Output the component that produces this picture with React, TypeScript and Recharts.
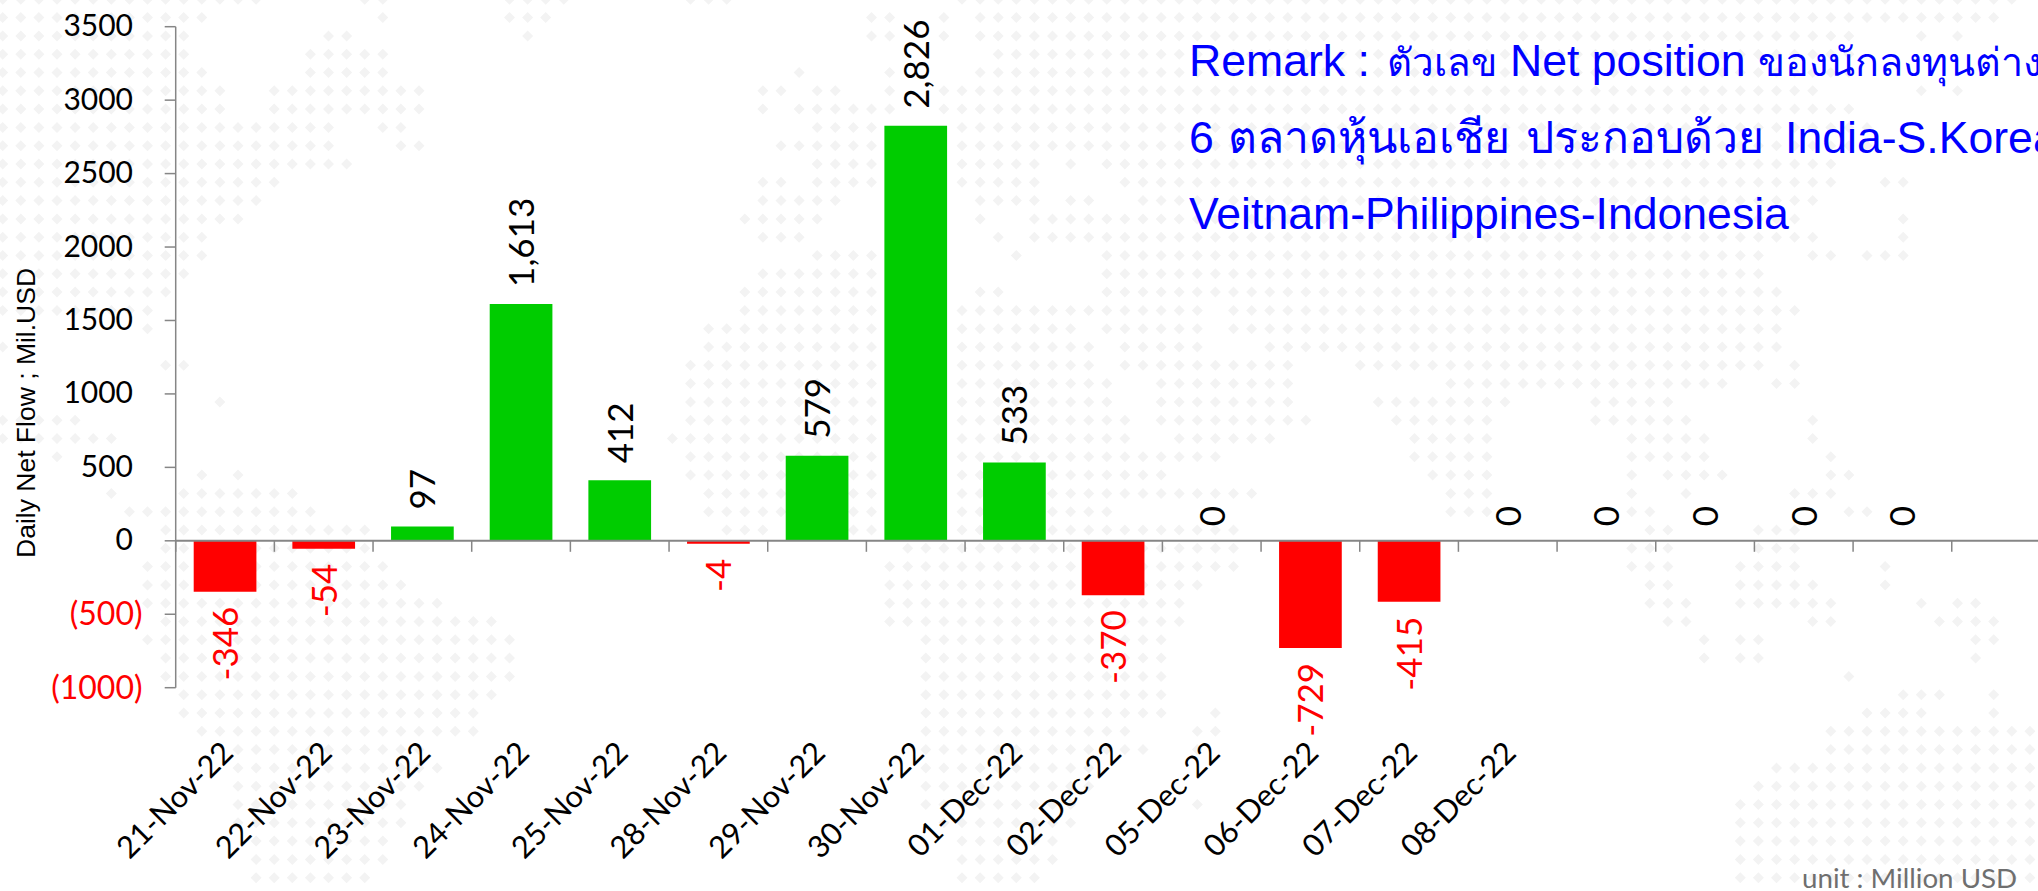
import { Bar, BarChart, Cell, LabelList, ReferenceLine, XAxis, YAxis } from 'recharts';

const categories = [
  '21-Nov-22', '22-Nov-22', '23-Nov-22', '24-Nov-22', '25-Nov-22', '28-Nov-22', '29-Nov-22',
  '30-Nov-22', '01-Dec-22', '02-Dec-22', '05-Dec-22', '06-Dec-22', '07-Dec-22', '08-Dec-22',
  '', '', '', '', '',
];
const netFlow = [-346, -54, 97, 1613, 412, -4, 579, 2826, 533, -370, 0, -729, -415, 0, 0, 0, 0, 0, null];
const yTicks = [-1000, -500, 0, 500, 1000, 1500, 2000, 2500, 3000, 3500];
const remarkLine1 = ['Remark :', 'ตัวเลข', 'Net position', 'ของนักลงทุนต่าง'];
const remarkLine2 = ['6', 'ตลาดหุ้นเอเชีย', 'ประกอบด้วย', 'India-S.Korea'];
const remarkLine3 = ['Veitnam-Philippines-Indonesia'];

// world-map dots behind the chart: one string per dot row, "from-to" column runs
const mapRows = [
  '0-14 20-21 28-31 38-40 53-111',
  '0-11 21 28-30 48-49 52 54-110',
  '0-10 18-19 29 48-49 52 54-102 106 108',
  '0-10 17-21 55-102',
  '0-11 17-21 44 49 54-102',
  '0-12 15-23 42-43 45-46 49 52-100 106 108',
  '0-12 15-23 42 44-49 52-102',
  '0-18 21-22 45-48 53-103',
  '0-18 22-23 43-48 53-103',
  '0-19 45-48 53-57 59 61-101',
  '0-15 42-43 45-48 53-57 62-101 104-105',
  '0-14 42-46 54-57 59-60 63-100',
  '0-13 41-45 54 57-99 105',
  '0-11 42-44 55 57-100 105',
  '0-11 45-48 56 61-97 100-101 103-105',
  '0-10 42-48 61-97',
  '0-9 41-48 54-55 61-98',
  '0-8 41-48 53-66 68-99',
  '8 39-48 53-59 61-66 68-98',
  '0 39-48 53-60 62-66 70-98',
  '9-10 38-48 53-60 62-71 75-97 99',
  '38-48 53-61 64-71 80-95 98-99',
  '12 38-48 53-61 64-71 76-83 88-92',
  '0-4 38-48 53-62 64-72 77-82 88-93 100',
  '0-6 37-48 53-62 65-70 78-82 90-94 100',
  '3 38-48 53-67 78-82 90-94 101',
  '11 13 38-48 53-64 79-82 90 92-95 101-102',
  '6 10-16 39-48 53-69 80-82 90 93 99-101',
  '7-17 39-48 53-61 80-82 90-91 102-103',
  '9-20 40-42 47-48 53-68 91-92 97-99',
  '9-20 50-68 90-92 97-99',
  '8-21 49-68 90-92 96-99 104',
  '8-22 49-66 91-92 96-100 104',
  '8-24 49-65 91-93 96-101 106 108-109',
  '9-27 49-65 92-93 100-101 107-110',
  '8-28 51-64 94 96-97 109-110',
  '9-28 51-64 94 96-97 109',
  '9-28 51-64 102',
  '10-27 51-64 105-107 110',
  '10-26 51-64 67 103-106 110',
  '11-26 51-62 66-67 101-112',
  '13-23 51-63 66 101-112',
  '13-24 51-60 98-112',
  '13-23 51-60 97-112',
  '13-22 51-59 66 96-112',
  '13-22 52-59 96-112',
  '14-21 53-58 96-112',
  '14-21 53-58 96-112',
  '14-20 53-57 96-112',
];

const rows = categories.map((date, i) => ({ date, flow: netFlow[i] }));

const WIDTH = 2038;
const HEIGHT = 891;
const PLOT_LEFT = 175.7;
const PLOT_TOP = 26.7;
const PLOT_BOTTOM = 687.7;
const BAND = 98.67;
const CHART_WIDTH = Math.ceil(PLOT_LEFT + BAND * categories.length);
const ZERO_Y = PLOT_TOP + ((PLOT_BOTTOM - PLOT_TOP) * 3500) / 4500;
const AXIS_GREY = '#868686';
const LABEL_FONT = 'Lato, sans-serif';
const REMARK_FONT = 'Liberation Sans, Noto Sans, sans-serif';

function mapPath() {
  let d = '';
  mapRows.forEach((row, r) => {
    const cy = 18.3 * r - 0.7;
    row.split(' ').forEach((run) => {
      const [from, to = from] = run.split('-').map(Number);
      for (let c = from; c <= to; c++) {
        const cx = 2.7 + 18.1 * c;
        d += `M${cx - 5.5} ${cy}L${cx} ${cy - 5.5}L${cx + 5.5} ${cy}L${cx} ${cy + 5.5}Z`;
      }
    });
  });
  return d;
}

function DateTick({ x, y, payload }: any) {
  return (
    <g>
      <line x1={x - BAND / 2} x2={x - BAND / 2} y1={ZERO_Y} y2={ZERO_Y + 11} stroke={AXIS_GREY} strokeWidth={1.5} />
      <text
        transform={`translate(${x + 10} ${y + 59}) rotate(-45)`}
        textAnchor="end"
        fontFamily={LABEL_FONT}
        fontSize={30.6}
        fill="#000"
      >
        {payload.value}
      </text>
    </g>
  );
}

function FlowTick({ y, payload }: any) {
  const negative = payload.value < 0;
  const text = negative ? `(${Math.abs(payload.value)})` : `${payload.value}`;
  return (
    <text
      x={negative ? 142.5 : 133}
      y={y + (negative ? 11 : 9.5)}
      textAnchor="end"
      fontFamily={LABEL_FONT}
      fontSize={negative ? 32 : 30}
      fill={negative ? '#ff0000' : '#000'}
    >
      {text}
    </text>
  );
}

function FlowLabel({ x, y, width, height, value }: any) {
  if (value == null) return null;
  const cx = x + width / 2 + 13;
  const top = Math.min(y, y + height);
  const bottom = Math.max(y, y + height);
  const negative = value < 0;
  const gap = value === 0 ? 14 : 17;
  return (
    <text
      transform={`translate(${cx} ${negative ? bottom + 15 : top - gap}) rotate(-90)`}
      textAnchor={negative ? 'end' : 'start'}
      fontFamily={LABEL_FONT}
      fontSize={35}
      fill={negative ? '#ff0000' : '#000'}
    >
      {value.toLocaleString('en-US')}
    </text>
  );
}

function RemarkLine({ parts, xs, sizes, y }: any) {
  return (
    <text y={y} fontFamily={REMARK_FONT} fill="#0000ff">
      {parts.map((part: string, i: number) => (
        <tspan key={i} x={xs[i]} fontSize={sizes[i]}>
          {part}
        </tspan>
      ))}
    </text>
  );
}

export default function App() {
  return (
    <div style={{ position: 'absolute', left: 0, top: 0, width: WIDTH, height: HEIGHT, overflow: 'hidden', background: '#fff' }}>
      <svg width={WIDTH} height={HEIGHT} style={{ position: 'absolute', left: 0, top: 0 }}>
        <path d={mapPath()} fill="#f3f3f3" />
      </svg>
      <div style={{ position: 'absolute', left: 0, top: 0 }}>
        <BarChart
          width={CHART_WIDTH}
          height={HEIGHT}
          data={rows}
          barSize={62.7}
          margin={{ top: PLOT_TOP, right: CHART_WIDTH - PLOT_LEFT - BAND * categories.length, bottom: 0, left: 0 }}
        >
          <XAxis
            dataKey="date"
            interval={0}
            axisLine={false}
            tickLine={false}
            height={HEIGHT - PLOT_BOTTOM}
            tick={<DateTick />}
          />
          <YAxis
            width={PLOT_LEFT}
            domain={[-1000, 3500]}
            ticks={yTicks}
            interval={0}
            tickSize={11}
            axisLine={{ stroke: AXIS_GREY, strokeWidth: 1.5 }}
            tickLine={{ stroke: AXIS_GREY, strokeWidth: 1.5 }}
            tick={<FlowTick />}
          />
          {/* tiny bars still need a visible sliver and a label */}
          <Bar dataKey="flow" isAnimationActive={false} minPointSize={(v: number) => (v === 0 ? 0.5 : 3)}>
            {rows.map((row, i) => (
              <Cell key={i} fill={(row.flow ?? 0) < 0 ? '#ff0000' : '#00cc00'} />
            ))}
            <LabelList dataKey="flow" content={<FlowLabel />} />
          </Bar>
          <ReferenceLine y={0} stroke={AXIS_GREY} strokeWidth={2} />
        </BarChart>
      </div>
      <svg width={WIDTH} height={HEIGHT} style={{ position: 'absolute', left: 0, top: 0, pointerEvents: 'none' }}>
        <text
          transform="translate(35 558) rotate(-90)"
          fontFamily="Liberation Sans, sans-serif"
          fontSize={26.5}
          fill="#000"
        >
          Daily Net Flow ; Mil.USD
        </text>
        <RemarkLine parts={remarkLine1} xs={[1189, 1387, 1510, 1758]} sizes={[44.6, 38.5, 44.6, 39.5]} y={76} />
        <RemarkLine parts={remarkLine2} xs={[1189, 1228, 1526, 1785]} sizes={[44.6, 44.5, 44.5, 44.6]} y={152.7} />
        <RemarkLine parts={remarkLine3} xs={[1189]} sizes={[44.6]} y={229} />
        <text x={1802} y={888} fontFamily={LABEL_FONT} fontSize={27.7} fill="#6f6f6f">
          unit : Million USD
        </text>
      </svg>
    </div>
  );
}
